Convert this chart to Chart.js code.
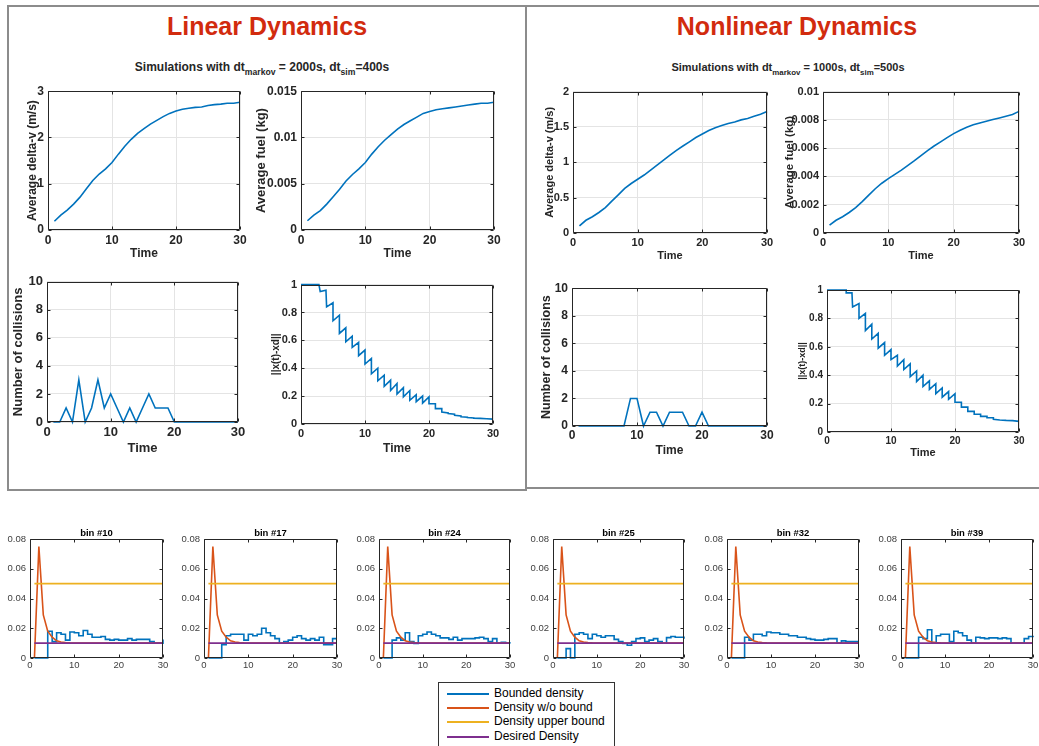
<!DOCTYPE html>
<html>
<head>
<meta charset="utf-8">
<script src="https://cdn.jsdelivr.net/npm/chart.js@4.4.1/dist/chart.umd.min.js"></script>
<style>
  body { margin: 0; width: 1039px; height: 746px; overflow: hidden; position: relative; background: #fff;
         font-family: "Liberation Sans", Arial, Helvetica, sans-serif; color: #262626; }
  canvas { position: absolute; }
  .t { position: absolute; white-space: nowrap; transform: translate(-50%, -50%); font-weight: bold; }
  .t sub { font-size: 0.72em; vertical-align: -0.5em; line-height: 0; }
  .head { font-size: 25px; color: #d22b0e; }
  .line { position: absolute; background: #8c8c8c; }
  #legend { position: absolute; left: 438px; top: 682px; width: 175px; height: 70px; border: 1px solid #333;
            font-size: 12px; color: #000; }
  #legend div { position: absolute; left: 8px; height: 14px; line-height: 14px; }
  #legend span { display: inline-block; width: 42px; height: 2px; vertical-align: middle; margin-right: 5px; }
</style>
</head>
<body>
<div class="line" style="left:7px;top:5px;width:520px;height:2px"></div>
<div class="line" style="left:7px;top:5px;width:2px;height:486px"></div>
<div class="line" style="left:525px;top:5px;width:2px;height:486px"></div>
<div class="line" style="left:7px;top:489px;width:520px;height:2px"></div>
<div class="line" style="left:527px;top:5px;width:512px;height:2px"></div>
<div class="line" style="left:527px;top:487px;width:512px;height:2px"></div>

<div class="t head" style="left:267px;top:26px">Linear Dynamics</div>
<div class="t head" style="left:797px;top:26px">Nonlinear Dynamics</div>
<div class="t" style="left:262px;top:67px;font-size:12px">Simulations with dt<sub>markov</sub> = 2000s, dt<sub>sim</sub>=400s</div>
<div class="t" style="left:788px;top:67px;font-size:11px">Simulations with dt<sub>markov</sub> = 1000s, dt<sub>sim</sub>=500s</div>

<div id="legend">
  <div style="top:3px"><span style="background:#0072BD"></span>Bounded density</div>
  <div style="top:17px"><span style="background:#D95319"></span>Density w/o bound</div>
  <div style="top:31px"><span style="background:#EDB120"></span>Density upper bound</div>
  <div style="top:46px"><span style="background:#7E2F8E"></span>Desired Density</div>
</div>

<script>
const steps = [1,2,3,4,5,6,7,8,9,10,11,12,13,14,15,16,17,18,19,20,21,22,23,24,25,26,27,28,29,30];

// linear dynamics
const linDeltaV = [0.19,0.32,0.43,0.56,0.71,0.89,1.07,1.21,1.32,1.46,1.64,1.81,1.96,2.09,2.19,2.29,2.37,2.45,2.52,2.57,2.61,2.63,2.65,2.66,2.69,2.71,2.72,2.74,2.74,2.76];
const linFuel = [0.0010,0.0016,0.0021,0.0028,0.0036,0.0044,0.0053,0.0060,0.0066,0.0073,0.0082,0.0090,0.0097,0.0103,0.0109,0.0114,0.0118,0.0122,0.0126,0.0128,0.0130,0.0131,0.0132,0.0133,0.0134,0.0135,0.0136,0.0137,0.0137,0.0138];
const linCollisions = [0,0,1,0,3,0,1,3,1,2,1,0,1,0,1,2,1,1,1,0,0,0,0,0,0,0,0,0,0,0];
const linNormT = [0,2.8,3,3.9,4,5,5,6,6,7,7,8,8,9,9,10,10,11,11,12,12,13,13,14,14,15,15,16,16,17,17,18,18,19,19,20,20,21,21,22,22,23,23,24,24,25,25,26,26,27,27,28,29,30];
const linNormV = [1,1,0.95,0.96,0.84,0.87,0.74,0.78,0.65,0.69,0.59,0.63,0.55,0.585,0.49,0.53,0.43,0.47,0.36,0.40,0.31,0.35,0.27,0.315,0.24,0.29,0.215,0.26,0.195,0.24,0.17,0.21,0.16,0.20,0.15,0.195,0.145,0.145,0.11,0.11,0.085,0.08,0.075,0.07,0.062,0.058,0.052,0.048,0.046,0.043,0.041,0.04,0.038,0.035];

// nonlinear dynamics
const nonDeltaV = [0.10,0.18,0.23,0.29,0.36,0.45,0.54,0.63,0.70,0.76,0.82,0.89,0.96,1.03,1.10,1.17,1.23,1.29,1.35,1.40,1.45,1.49,1.52,1.55,1.57,1.60,1.62,1.65,1.68,1.72];
const nonFuel = [0.00055,0.0009,0.00115,0.00145,0.0018,0.00222,0.00268,0.00313,0.00352,0.00385,0.00415,0.00445,0.00478,0.00512,0.00548,0.00583,0.00615,0.00645,0.00675,0.00703,0.00727,0.00748,0.00765,0.00778,0.0079,0.00802,0.00814,0.00826,0.00838,0.0086];
const nonCollisions = [0,0,0,0,0,0,0,0,2,2,0,1,1,0,1,1,1,0,0,1,0,0,0,0,0,0,0,0,0,0];
const nonNormT = [0,3,3,3.9,4,5,5,6,6,7,7,8,8,9,9,10,10,11,11,12,12,13,13,14,14,15,15,16,16,17,17,18,18,19,19,20,20,21,21,22,22,23,23,24,24,25,25,26,26,27,28,29,30];
const nonNormV = [1,1,0.98,0.98,0.88,0.905,0.80,0.835,0.715,0.76,0.655,0.695,0.59,0.63,0.54,0.58,0.51,0.54,0.465,0.51,0.44,0.48,0.39,0.43,0.355,0.40,0.32,0.36,0.30,0.34,0.27,0.31,0.245,0.285,0.23,0.27,0.21,0.21,0.175,0.175,0.145,0.145,0.125,0.125,0.11,0.11,0.10,0.10,0.09,0.085,0.082,0.08,0.075];

// density per bin
const binNames = ['bin #10','bin #17','bin #24','bin #25','bin #32','bin #39'];
const bin10 = [0,0,0,0.018,0.011,0.017,0.016,0.012,0.0175,0.017,0.015,0.0185,0.016,0.014,0.014,0.0145,0.0125,0.012,0.0125,0.012,0.012,0.013,0.012,0.0125,0.0125,0.0125,0.011,0.010,0.010,0.0125];
const bin17 = [0,0,0,0.009,0.015,0.016,0.016,0.016,0.012,0.016,0.015,0.016,0.020,0.017,0.015,0.013,0.010,0.011,0.012,0.014,0.015,0.013,0.012,0.013,0.012,0.014,0.009,0.009,0.013,0.013];
const bin24 = [0,0,0.012,0.0135,0.012,0.017,0.011,0.0097,0.015,0.016,0.0175,0.016,0.015,0.0135,0.0135,0.0125,0.014,0.012,0.013,0.013,0.013,0.0135,0.014,0.013,0.011,0.013,0.010,0.0105,0.010,0.0097];
const bin25 = [0,0,0.0063,0,0.016,0.017,0.016,0.013,0.016,0.015,0.014,0.015,0.015,0.0125,0.011,0.0097,0.0086,0.011,0.013,0.0135,0.011,0.012,0.013,0.011,0.010,0.0137,0.0145,0.014,0.014,0.013];
const bin32 = [0,0,0,0.014,0.012,0.016,0.016,0.015,0.0175,0.017,0.017,0.016,0.016,0.015,0.015,0.014,0.014,0.013,0.0125,0.012,0.012,0.0125,0.013,0.013,0.010,0.0115,0.011,0.011,0.011,0.011];
const bin39 = [0,0,0,0.014,0.013,0.019,0.010,0.015,0.016,0.016,0.011,0.018,0.017,0.015,0.012,0.010,0.014,0.0135,0.013,0.0135,0.0135,0.013,0.0135,0.013,0.010,0.010,0.010,0.013,0.0145,0.014];
const freeDensity = [0,0.075,0.029,0.018,0.014,0.0115,0.0107,0.0104,0.0102,0.0101,0.0101,0.0101,0.0101,0.0101,0.0101,0.0101,0.0101,0.0101,0.0101,0.0101,0.0101,0.0101,0.0101,0.0101,0.0101,0.0101,0.0101,0.0101,0.0101,0.0101];
const boundTimes = [1, 30];
const upperBound = [0.05, 0.05];
const desiredDensity = [0.01, 0.01];

const FONT = '"Liberation Sans", Arial, Helvetica, sans-serif';
const INK = '#262626';
const pts = (xs, ys) => xs.map((x, i) => ({ x, y: ys[i] }));

// matlab style box with inward ticks
const boxPlugin = {
  id: 'matlabBox',
  afterDatasetsDraw(chart) {
    const { ctx, chartArea: a, scales } = chart;
    const L = Math.round(a.left) + 0.5, R = Math.round(a.right) - 0.5;
    const T = Math.round(a.top) + 0.5, B = Math.round(a.bottom) - 0.5;
    ctx.save();
    ctx.strokeStyle = INK;
    ctx.lineWidth = 1;
    ctx.beginPath();
    ctx.rect(L, T, R - L, B - T);
    scales.x.ticks.forEach(tk => {
      const px = Math.round(scales.x.getPixelForValue(tk.value)) + 0.5;
      ctx.moveTo(px, B); ctx.lineTo(px, B - 3);
      ctx.moveTo(px, T); ctx.lineTo(px, T + 3);
    });
    scales.y.ticks.forEach(tk => {
      const py = Math.round(scales.y.getPixelForValue(tk.value)) + 0.5;
      ctx.moveTo(L, py); ctx.lineTo(L + 3, py);
      ctx.moveTo(R, py); ctx.lineTo(R - 3, py);
    });
    ctx.stroke();
    ctx.restore();
  }
};

function makeChart(s) {
  const [l, t, r, b] = s.box;
  const W = Math.round(s.ytitle ? l - s.ytx + s.ytSize * 0.6 : s.yw);
  const H = Math.round(s.xtitle ? s.xty - b + s.xtSize * 0.6 : s.xh);
  const padTop = 10, padRight = 14;
  const c = document.createElement('canvas');
  c.width = W + (r - l) + padRight;
  c.height = padTop + (b - t) + H;
  c.style.left = (l - W) + 'px';
  c.style.top = (t - padTop) + 'px';
  document.body.appendChild(c);

  const tickFont = { family: FONT, size: s.tickSize, weight: s.tickWeight };
  new Chart(c, {
    type: 'line',
    data: { datasets: s.datasets },
    options: {
      responsive: false,
      animation: false,
      events: [],
      layout: { padding: { top: padTop, right: padRight, left: 0, bottom: 0 } },
      plugins: { legend: { display: false }, tooltip: { enabled: false } },
      scales: {
        x: {
          type: 'linear', min: 0, max: 30,
          afterFit: sc => { sc.height = H; },
          ticks: { stepSize: 10, autoSkip: false, maxRotation: 0, color: s.tickColor, font: tickFont, padding: s.xpad },
          grid: { display: s.grid, color: '#e4e4e4', drawTicks: false },
          border: { display: false },
          title: { display: !!s.xtitle, text: s.xtitle, color: INK, padding: 0,
                   font: { family: FONT, size: s.xtSize, weight: 'bold' } }
        },
        y: {
          type: 'linear', min: 0, max: s.ymax,
          afterFit: sc => { sc.width = W; },
          ticks: { stepSize: s.ystep, autoSkip: false, color: s.tickColor, font: tickFont, padding: 4,
                   callback: v => String(+v.toFixed(4)) },
          grid: { display: s.grid, color: '#e4e4e4', drawTicks: false },
          border: { display: false },
          title: { display: !!s.ytitle, text: s.ytitle, color: INK, padding: 0,
                   font: { family: FONT, size: s.ytSize, weight: 'bold' } }
        }
      }
    },
    plugins: [boxPlugin]
  });
}

const blueLine = (xs, ys) => [{ data: pts(xs, ys), borderColor: '#0072BD', borderWidth: 1.6, pointRadius: 0, tension: 0, clip: 3 }];

const topCharts = [
  { box: [48, 90, 240, 230], datasets: blueLine(steps, linDeltaV), ymax: 3, ystep: 1, ytitle: 'Average delta-v (m/s)', ytSize: 12, ytx: 32, xtitle: 'Time', xtSize: 12, xty: 254, tickSize: 12, xpad: 3 },
  { box: [301, 90, 494, 230], datasets: blueLine(steps, linFuel), ymax: 0.015, ystep: 0.005, ytitle: 'Average fuel (kg)', ytSize: 13, ytx: 262, xtitle: 'Time', xtSize: 12, xty: 254, tickSize: 12, xpad: 3 },
  { box: [47, 280, 238, 422], datasets: blueLine(steps, linCollisions), ymax: 10, ystep: 2, ytitle: 'Number of collisions', ytSize: 13, ytx: 19, xtitle: 'Time', xtSize: 13, xty: 448, tickSize: 13, xpad: 3 },
  { box: [301, 284, 493, 424], datasets: blueLine(linNormT, linNormV), ymax: 1, ystep: 0.2, ytitle: '||x(t)-xd||', ytSize: 10, ytx: 276, xtitle: 'Time', xtSize: 12, xty: 449, tickSize: 11, xpad: 3 },
  { box: [573, 91, 767, 233], datasets: blueLine(steps, nonDeltaV), ymax: 2, ystep: 0.5, ytitle: 'Average delta-v (m/s)', ytSize: 11, ytx: 550, xtitle: 'Time', xtSize: 11, xty: 256, tickSize: 11, xpad: 3 },
  { box: [823, 91, 1019, 233], datasets: blueLine(steps, nonFuel), ymax: 0.01, ystep: 0.002, ytitle: 'Average fuel (kg)', ytSize: 11.5, ytx: 790, xtitle: 'Time', xtSize: 11, xty: 256, tickSize: 11, xpad: 3 },
  { box: [572, 287, 767, 426], datasets: blueLine(steps, nonCollisions), ymax: 10, ystep: 2, ytitle: 'Number of collisions', ytSize: 12.5, ytx: 547, xtitle: 'Time', xtSize: 12, xty: 451, tickSize: 12, xpad: 2 },
  { box: [827, 290, 1019, 432], datasets: blueLine(nonNormT, nonNormV), ymax: 1, ystep: 0.2, ytitle: '||x(t)-xd||', ytSize: 9, ytx: 802, xtitle: 'Time', xtSize: 11, xty: 453, tickSize: 10, xpad: 3 }
];
topCharts.forEach(s => makeChart(Object.assign({ grid: true, tickColor: INK, tickWeight: 'bold' }, s)));

const binSeries = [bin10, bin17, bin24, bin25, bin32, bin39];
const binBoxes = [[30, 539, 163, 658], [204, 539, 337, 658], [379, 539, 510, 658], [553, 539, 684, 658], [727, 539, 859, 658], [901, 539, 1033, 658]];
binSeries.forEach((vals, i) => {
  const box = binBoxes[i];
  makeChart({
    box, grid: false, tickColor: '#404040', tickWeight: 'normal', tickSize: 9.5, xpad: 2,
    ymax: 0.08, ystep: 0.02, yw: 30, xh: 16,
    datasets: [
      { data: pts(steps, vals), borderColor: '#0072BD', borderWidth: 1.6, pointRadius: 0, stepped: true, clip: 3, order: 4 },
      { data: pts(steps, freeDensity), borderColor: '#D95319', borderWidth: 1.6, pointRadius: 0, tension: 0, clip: 3, order: 3 },
      { data: pts(boundTimes, upperBound), borderColor: '#EDB120', borderWidth: 1.6, pointRadius: 0, clip: 3, order: 2 },
      { data: pts(boundTimes, desiredDensity), borderColor: '#7E2F8E', borderWidth: 1.6, pointRadius: 0, clip: 3, order: 1 }
    ]
  });
  const title = document.createElement('div');
  title.className = 't';
  title.style.cssText = `left:${(box[0] + box[2]) / 2}px;top:532px;font-size:9.5px;color:#000`;
  title.textContent = binNames[i];
  document.body.appendChild(title);
});
</script>
</body>
</html>
